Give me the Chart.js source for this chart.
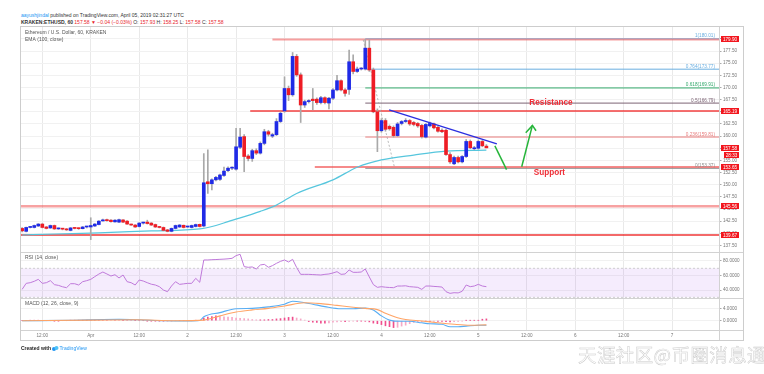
<!DOCTYPE html>
<html>
<head>
<meta charset="utf-8">
<title>ETHUSD 60</title>
<script src="https://cdn.jsdelivr.net/npm/chart.js@4.4.0/dist/chart.umd.min.js"></script>
<style>
  body { margin: 0; background: #fff; font-family: "Liberation Sans", Arial, sans-serif; }
  #page { position: relative; width: 764px; height: 374px; overflow: hidden; }
  .abs { position: absolute; }
  canvas { position: absolute; }
  .hdr { left: 21px; font-size: 5px; line-height: 6px; color: #333; white-space: nowrap; }
  .red { color: #e8262b; }
  .sep { position: absolute; background: #d2d2d2; }
  #frame { left: 20px; top: 26px; width: 722px; height: 313px; border: 1px solid #cdcdcd; }
  #wm { left: 578px; top: 341px; font: 18.5px "Noto Sans CJK SC", sans-serif; color: transparent;
        -webkit-text-stroke: 0.45px #c9c9c9; letter-spacing: 0.4px; white-space: nowrap; }
  #foot { left: 21px; top: 345px; font-size: 5px; white-space: nowrap; color: #222; }
</style>
</head>
<body>
<div id="page">
  <div class="abs hdr" style="top:12px"><span style="color:#2196f3">aayushjindal</span> published on TradingView.com, April 05, 2019 02:31:27 UTC</div>
  <div class="abs hdr" style="top:19px"><b>KRAKEN:ETHUSD, 60</b> <span class="red">157.58 ▼ −0.04 (−0.03%)</span> O: <span class="red">157.93</span> H: <span class="red">158.25</span> L: <span class="red">157.58</span> C: <span class="red">157.58</span></div>

  <canvas id="main" width="722" height="225" style="left:21px;top:27px"></canvas>
  <canvas id="rsi" width="722" height="46" style="left:21px;top:252px"></canvas>
  <canvas id="macd" width="722" height="42" style="left:21px;top:298px"></canvas>

  <div id="frame" class="abs"></div>
  <div class="sep" style="left:21px;top:252px;width:722px;height:1px"></div>
  <div class="sep" style="left:21px;top:298px;width:722px;height:1px"></div>
  <div class="sep" style="left:21px;top:330px;width:722px;height:1px"></div>
  <div class="sep" style="left:719px;top:27px;width:1px;height:313px"></div>

  <div id="foot" class="abs"><b>Created with</b>
    <svg width="7" height="5" viewBox="0 0 14 10" style="vertical-align:-1px"><circle cx="4" cy="6" r="4" fill="#2196f3"/><circle cx="9" cy="4" r="4" fill="#4fc3f7"/></svg><span style="color:#2196f3">TradingView</span></div>
  <div id="wm" class="abs">天涯社区@币圈消息通</div>
</div>

<script>
// hourly candles, hour 0 = 2019-03-31 00:00 UTC
const firstHour = 7;
const opens = [
  141.0, 140.4, 141.2, 141.2, 141.5, 141.9, 141.3, 141.1, 141.6, 140.9,
  140.95, 140.9, 140.6, 141.05, 141.0, 140.95, 141.3, 141.3, 141.5, 141.8,
  142.55, 142.8, 142.7, 142.35, 142.3, 142.75, 142.5, 141.85, 141.7, 141.4,
  142.1, 142.3, 142.1, 141.8, 141.25, 141.2, 140.7, 140.4, 141.0, 141.3,
  141.65, 141.3, 141.2, 141.4, 141.85, 141.5, 150.6, 150.2, 151.0, 151.1,
  151.9, 152.9, 153.4, 153.2, 157.7, 159.9, 155.9, 155.4, 157.0, 156.5,
  158.5, 160.9, 160.0, 160.3, 163.0, 165.2, 169.8, 168.5, 176.4, 172.6,
  166.4, 167.1, 167.6, 167.6, 166.9, 167.9, 166.8, 167.8, 169.5, 171.4,
  169.5, 169.6, 175.3, 173.3, 173.8, 173.8, 178.1, 173.6, 165.0, 161.1,
  163.2, 162.0, 161.8, 160.1, 162.6, 163.0, 163.2, 162.8, 162.6, 162.2,
  159.8, 162.1, 162.5, 161.8, 161.2, 161.2, 156.2, 154.3, 155.6, 154.7,
  155.8, 158.9, 157.4, 157.5, 158.9, 157.93
];
const highs = [
  141.2, 141.3, 141.4, 141.7, 142.0, 142.0, 141.4, 141.7, 141.7, 141.1,
  141.0, 141.0, 141.2, 141.2, 141.1, 141.4, 141.4, 143.2, 142.0, 142.6,
  142.9, 142.9, 142.8, 142.8, 142.9, 142.8, 142.6, 141.9, 141.8, 142.2,
  142.3, 142.7, 142.2, 141.9, 141.4, 141.3, 140.8, 141.1, 141.7, 141.8,
  141.7, 141.4, 141.7, 141.9, 141.9, 156.4, 157.2, 151.2, 151.7, 152.2,
  153.6, 153.7, 153.7, 161.6, 161.6, 160.3, 156.2, 157.3, 157.4, 158.8,
  161.4, 161.2, 160.6, 163.6, 165.0, 172.2, 170.3, 177.2, 176.8, 173.0,
  167.4, 167.5, 169.8, 167.9, 168.2, 168.1, 168.0, 169.8, 172.5, 171.6,
  169.8, 177.7, 176.7, 174.2, 174.1, 179.9, 179.8, 174.0, 165.6, 163.6,
  163.6, 162.3, 162.1, 162.8, 163.2, 163.6, 163.4, 163.0, 162.8, 162.4,
  162.6, 162.9, 162.7, 162.0, 161.5, 161.4, 156.6, 155.9, 155.9, 156.0,
  159.3, 159.2, 157.9, 159.2, 159.1, 158.25
];
const lows = [
  140.3, 140.3, 141.1, 141.1, 141.4, 141.1, 140.9, 141.0, 140.8, 140.8,
  140.7, 140.6, 140.5, 140.9, 140.8, 140.9, 141.1, 138.7, 141.4, 141.7,
  142.5, 142.5, 142.3, 142.3, 142.2, 142.2, 141.8, 141.6, 141.2, 141.3,
  141.9, 141.9, 141.6, 141.2, 141.1, 140.5, 140.3, 140.3, 140.9, 141.2,
  141.1, 141.2, 141.1, 141.3, 141.3, 141.3, 148.2, 148.9, 150.8, 150.9,
  151.7, 152.7, 153.1, 153.0, 157.4, 152.7, 154.9, 154.8, 156.2, 156.3,
  158.2, 160.0, 159.7, 160.1, 162.8, 164.9, 167.3, 168.2, 172.3, 162.8,
  165.9, 166.8, 165.4, 166.5, 166.6, 166.6, 165.6, 167.5, 169.3, 169.3,
  168.2, 168.6, 172.8, 173.1, 173.6, 173.6, 173.3, 164.8, 156.8, 160.8,
  161.0, 161.2, 159.8, 159.9, 162.3, 162.8, 162.2, 162.1, 161.8, 159.6,
  159.6, 161.9, 161.5, 160.8, 160.7, 156.0, 154.4, 154.1, 154.5, 154.5,
  155.6, 157.4, 157.2, 157.3, 157.8, 157.58
];
const closes = [
  140.5, 141.2, 141.3, 141.6, 141.9, 141.2, 141.0, 141.6, 140.9, 141.0,
  140.85, 140.7, 141.1, 141.0, 140.95, 141.3, 141.35, 141.6, 141.9, 142.5,
  142.7, 142.6, 142.4, 142.7, 142.8, 142.3, 141.9, 141.7, 141.3, 142.1,
  142.15, 142.0, 141.7, 141.3, 141.2, 140.6, 140.4, 141.0, 141.6, 141.7,
  141.2, 141.3, 141.6, 141.8, 141.4, 150.4, 150.2, 151.0, 151.5, 152.0,
  152.8, 153.4, 153.5, 157.8, 159.8, 155.8, 155.4, 157.0, 156.5, 158.5,
  160.9, 160.4, 160.3, 163.0, 164.7, 169.8, 168.5, 176.4, 172.6, 166.4,
  167.1, 167.25, 167.3, 166.9, 167.9, 166.9, 167.8, 169.5, 171.4, 169.5,
  168.8, 175.3, 173.3, 173.8, 173.9, 178.1, 173.6, 165.0, 161.1, 163.2,
  161.4, 161.5, 160.1, 162.5, 163.0, 163.2, 162.5, 162.4, 162.1, 159.9,
  162.4, 162.6, 161.7, 161.0, 160.9, 156.2, 154.7, 155.6, 154.7, 155.8,
  158.9, 157.6, 157.6, 158.9, 158.0, 157.58
];
const hours = opens.map((_, i) => firstHour + i);

// EMA (100, close), read at a few points
const emaHours = [7, 15, 26, 39, 51, 55, 58, 66, 70, 75, 84, 90, 96, 104, 112, 122];
const emaValues = [139.65, 139.85, 140.1, 140.5, 140.9, 141.6, 142.4, 144.5, 145.8, 148.2, 151.0, 153.6, 155.1, 156.1, 156.9, 157.1];

// RSI (14, close), one value per candle
const rsiValues = [
  40.9, 49.2, 50.1, 52.0, 54.7, 49.2, 50.1, 52.9, 47.4, 46.4,
  44.5, 43.2, 48.7, 48.7, 46.9, 51.5, 52.9, 54.7, 58.4, 62.0,
  64.8, 62.1, 59.3, 61.1, 56.6, 60.7, 51.5, 50.1, 46.9, 53.8,
  52.4, 50.1, 48.0, 46.9, 44.6, 40.0, 37.7, 45.5, 51.5, 47.8,
  48.5, 49.2, 49.2, 56.1, 50.6, 81.4, 81.4, 81.8, 82.0, 82.3,
  82.6, 83.0, 83.7, 87.4, 89.2, 72.2, 71.3, 71.8, 69.0, 74.5,
  75.4, 71.3, 73.6, 76.8, 79.5, 81.4, 78.6, 82.3, 71.0, 61.6,
  61.6, 61.6, 61.3, 61.0, 60.7, 61.6, 62.1, 63.5, 65.3, 61.6,
  62.1, 67.6, 64.4, 64.4, 64.8, 69.0, 58.0, 47.5, 43.7, 44.6,
  43.9, 43.5, 43.2, 45.5, 45.5, 45.8, 44.6, 44.2, 43.7, 40.9,
  45.5, 45.5, 45.0, 44.6, 44.1, 37.7, 35.4, 36.3, 36.0, 38.2,
  46.9, 44.6, 45.5, 47.8, 45.5, 44.6
];
const rsiBand = [30, 70];

// MACD (12, 26, close, 9)
const macdHours = [7, 20, 27, 31, 36, 42, 48, 51, 52, 56, 60, 64, 68, 72, 74, 77, 79, 82, 86, 89,
  92, 94, 96, 98, 101, 103, 106, 108, 111, 113, 115, 117, 120, 122];
const macdValues = [0, 0.15, 0.4, 0.45, 0.3, 0, -0.1, 0.05, 1.3, 2.7, 4.0, 4.1, 4.6, 5.5, 6.5, 6.0, 5.5, 4.7, 4.0, 4.0,
  4.2, 3.6, 1.6, 0.2, -0.2, -0.2, -0.7, -1.0, -1.2, -2.0, -2.0, -1.8, -1.5, -1.5];
const signalHours = [7, 25, 35, 45, 52, 56, 60, 64, 68, 72, 77, 81, 85, 89, 92, 95, 97, 100, 102, 106, 110, 114, 118, 122];
const signalValues = [0, 0.2, 0.3, 0, 0.2, 1.6, 2.9, 3.6, 4.1, 4.9, 6.0, 5.7, 5.1, 4.5, 4.1, 3.7, 2.5, 1.0, 0.4, -0.1, -0.7, -1.2, -1.5, -1.4];
const histValues = [
  0, 0, 0.05, 0.05, 0.05, 0, 0, 0, -0.05, -0.05, 0, 0, 0.05, 0.05, 0.05, 0.05, 0.1,
  0.1, 0.15, 0.2, 0.2, 0.2, 0.15, 0.15, 0.1, 0.1, 0.05, 0, 0,
  0, 0, -0.05, -0.05, -0.1, -0.1, -0.15, -0.1, -0.05, 0, 0, 0, 0, 0, 0.05, 0,
  0.9, 1.2, 1.4, 1.6, 1.4, 1.3, 1.2, 1.1, 0.9, 0.8,
  0.7, 0.6, 0.4, 0.3, 0.3, 0.3, 0.4, 0.4, 0.6, 0.7,
  0.9, 1.1, 1.2, 0.9, 0.6, 0.2, -0.3, -0.5, -0.6, -0.8,
  -0.8, -0.7, -0.5, -0.4, -0.3, -0.3, -0.2, -0.1, -0.1, -0.1,
  -0.2, -0.4, -0.8, -1.0, -1.3, -1.7, -2.0, -2.3, -2.2, -1.8,
  -1.5, -1.0, -0.6, -0.4, -0.3, -0.3, -0.3, -0.2, -0.2, -0.2,
  -0.3, -0.4, -0.3, -0.2, -0.1, 0.1, 0.1, 0.1, 0.1, 0.5, 0.6
];

// drawn levels
const levelValues = [179.90, 165.19, 153.65, 145.56, 139.67];
const levelFrom = [69, 63.5, 79.5, 0, 0];
const fibRatios = ['1', '0.764', '0.618', '0.5', '0.236', '0'];
const fibValues = [180.01, 173.77, 169.91, 166.79, 159.81, 153.37];
const fibFrom = 92;
const trendHours = [97.9, 124.6];
const trendValues = [165.4, 158.4];
const fibSwingHours = [91.5, 99.2];
const fibSwingValues = [179.8, 153.7];
const arrowDownHours = [124.1, 127.0];
const arrowDownValues = [158.0, 153.1];
const arrowUpHours = [130.75, 133.4];
const arrowUpValues = [153.7, 162.2];
const arrowHeadHours = [131.75, 133.4, 134.3];
const arrowHeadValues = [160.7, 162.2, 161.1];
const noteTexts = ['Resistance', 'Support'];
const noteHours = [138, 137.6];
const noteValues = [166.8, 152.5];
const badgeValues = [179.90, 165.19, 157.58, 153.65, 145.56, 139.67];
const countdown = '28:33';

const priceTicks = [137.5, 140, 142.5, 145, 147.5, 150, 152.5, 155, 157.5, 160, 162.5, 165, 167.5, 170, 172.5, 175, 177.5, 180];
const rsiTicks = [40, 60, 80];
const macdTicks = [0, 4];
const timeHours = [12, 24, 36, 48, 60, 72, 84, 96, 108, 120, 132, 144, 156, 168];
const timeLabels = ['12:00', 'Apr', '12:00', '2', '12:00', '3', '12:00', '4', '12:00', '5', '12:00', '6', '12:00', '7'];

const xMin = 6.72, xMax = 179.62;
const FONT = '"Liberation Sans", Arial, sans-serif';
const upColor = '#1f2ae6', downColor = '#ee1d25';
const levelColors = ['rgba(238,80,80,0.55)', 'rgba(240,30,30,0.85)', 'rgba(240,60,60,0.6)', 'rgba(240,70,70,0.5)', 'rgba(235,20,20,0.85)'];
const levelWidths = [2, 1.5, 2, 2.5, 1.5];
const fibColors = ['#6aaee0', '#6aaee0', '#33a96c', '#7d6475', '#e77b7b', '#8f8f8f'];

Chart.defaults.animation = false;
Chart.defaults.font.family = FONT;
Chart.defaults.plugins.legend.display = false;
Chart.defaults.plugins.tooltip.enabled = false;

const pts = (xs, ys) => xs.map((x, i) => ({ x: x, y: ys[i] }));

function xScale(showLabels) {
  return {
    type: 'linear', min: xMin, max: xMax, offset: false,
    afterBuildTicks: s => { s.ticks = timeHours.map(v => ({ value: v })); },
    ticks: {
      display: showLabels, autoSkip: false, maxRotation: 0, padding: 2.5,
      font: { size: 4.6 }, color: '#777',
      callback: (v, i) => timeLabels[i]
    },
    grid: { color: '#e9e9e9', drawTicks: false, offset: false },
    border: { display: false },
    afterFit: s => { s.height = showLabels ? 10 : 0; s.paddingLeft = 0; s.paddingRight = 0; }
  };
}
function yScale(min, max, ticks, digits) {
  return {
    position: 'right', min: min, max: max,
    afterBuildTicks: s => { s.ticks = ticks.map(v => ({ value: v })); },
    ticks: { autoSkip: false, font: { size: 4.6 }, color: '#777', padding: 1.5, callback: v => v.toFixed(digits) },
    grid: { color: '#f1f1f1', tickLength: 2.5, tickColor: '#aaa' },
    border: { display: false },
    afterFit: s => { s.width = 24; s.paddingTop = 0; s.paddingBottom = 0; }
  };
}

Chart.register({
  id: 'paneTitle',
  afterDraw(chart, args, opts) {
    const { ctx, chartArea: a } = chart;
    ctx.save();
    ctx.font = '5px ' + FONT;
    ctx.fillStyle = '#555';
    ctx.textBaseline = 'middle';
    (opts.lines || []).forEach((t, i) => ctx.fillText(t, a.left + 4, a.top + 6 + i * 7));
    ctx.restore();
  }
});

const mainLabels = {
  id: 'mainLabels',
  afterDatasetsDraw(chart) {
    const { ctx, chartArea: a, scales: { x, y } } = chart;
    ctx.save();
    ctx.textBaseline = 'middle';
    ctx.textAlign = 'right';
    ctx.font = '4.7px ' + FONT;
    fibValues.forEach((v, i) => {
      ctx.fillStyle = fibColors[i];
      ctx.fillText(fibRatios[i] + '(' + v.toFixed(2) + ')', a.right - 4, y.getPixelForValue(v) - 2.8);
    });
    ctx.textAlign = 'center';
    ctx.fillStyle = '#ef2f38';
    ctx.font = 'bold 8.2px ' + FONT;
    noteTexts.forEach((t, i) => ctx.fillText(t, x.getPixelForValue(noteHours[i]), y.getPixelForValue(noteValues[i])));
    ctx.restore();
  },
  afterDraw(chart) {
    const { ctx, chartArea: a, scales: { y } } = chart;
    ctx.save();
    ctx.textAlign = 'center';
    ctx.textBaseline = 'middle';
    ctx.font = '4.6px ' + FONT;
    const bx = a.right + 2, bw = 18;
    badgeValues.forEach(v => {
      const py = Math.round(y.getPixelForValue(v));
      ctx.fillStyle = '#f2161e';
      ctx.fillRect(bx, py - 3, bw, 6);
      ctx.fillStyle = '#fff';
      ctx.fillText(v.toFixed(2), bx + bw / 2, py + 0.3);
    });
    const cy = Math.round(y.getPixelForValue(closes[closes.length - 1])) + 7;
    ctx.fillStyle = '#f2161e';
    ctx.fillRect(bx + 3, cy - 3, 15, 6);
    ctx.fillStyle = '#fff';
    ctx.fillText(countdown, bx + 10.5, cy + 0.3);
    ctx.restore();
  }
};

const lineDs = (data, color, width, order, extra) => Object.assign({
  type: 'line', data: data, borderColor: color, borderWidth: width, pointRadius: 0, order: order
}, extra || {});

new Chart(document.getElementById('main'), {
  type: 'bar',
  data: {
    datasets: [
      ...levelValues.map((v, i) => lineDs([{ x: levelFrom[i], y: v }, { x: xMax, y: v }], levelColors[i], levelWidths[i], 30)),
      ...fibValues.map((v, i) => lineDs([{ x: fibFrom, y: v }, { x: xMax, y: v }], fibColors[i], 1, 31)),
      lineDs(pts(fibSwingHours, fibSwingValues), '#a8a8a8', 0.8, 25, { borderDash: [2, 2] }),
      lineDs(pts(emaHours, emaValues), '#56c6dd', 1.2, 20, { cubicInterpolationMode: 'monotone' }),
      {
        data: pts(hours, hours.map((h, i) => [lows[i], highs[i]])),
        backgroundColor: '#a9a9a9', barThickness: 1, grouped: false, order: 12
      },
      {
        data: pts(hours, hours.map((h, i) => [opens[i], closes[i]])),
        backgroundColor: opens.map((o, i) => closes[i] >= o ? upColor : downColor),
        barThickness: 3, minBarLength: 1, grouped: false, order: 11
      },
      lineDs(pts(trendHours, trendValues), '#2b2fe0', 1.4, 3),
      lineDs(pts(arrowDownHours, arrowDownValues), '#26b53a', 1.5, 2),
      lineDs(pts(arrowUpHours, arrowUpValues), '#26b53a', 1.5, 2),
      lineDs(pts(arrowHeadHours, arrowHeadValues), '#26b53a', 1.5, 2)
    ]
  },
  options: {
    responsive: false,
    layout: { padding: 0 },
    scales: { x: xScale(false), y: yScale(136.15, 182.45, priceTicks, 2) },
    plugins: { paneTitle: { lines: ['Ethereum / U.S. Dollar, 60, KRAKEN', 'EMA (100, close)'] } }
  },
  plugins: [mainLabels]
});

const rsiBandPlugin = {
  id: 'rsiBand',
  beforeDatasetsDraw(chart) {
    const { ctx, chartArea: a, scales: { y } } = chart;
    const top = y.getPixelForValue(rsiBand[1]), bot = y.getPixelForValue(rsiBand[0]);
    ctx.save();
    ctx.fillStyle = 'rgba(170,100,235,0.12)';
    ctx.fillRect(a.left, top, a.right - a.left, bot - top);
    ctx.strokeStyle = '#c4c4c4';
    ctx.lineWidth = 0.8;
    ctx.setLineDash([2, 2]);
    [top, bot].forEach(py => {
      ctx.beginPath(); ctx.moveTo(a.left, py); ctx.lineTo(a.right, py); ctx.stroke();
    });
    ctx.restore();
  }
};

new Chart(document.getElementById('rsi'), {
  type: 'line',
  data: { datasets: [lineDs(pts(hours, rsiValues), '#bf79da', 1, 1)] },
  options: {
    responsive: false,
    layout: { padding: 0 },
    scales: { x: xScale(false), y: yScale(29.0, 92.4, rsiTicks, 4) },
    plugins: { paneTitle: { lines: ['RSI (14, close)'] } }
  },
  plugins: [rsiBandPlugin]
});

const histColors = histValues.map((v, i) => {
  const prev = i > 0 ? Math.abs(histValues[i - 1]) : 0;
  return Math.abs(v) >= prev ? '#ef4f8e' : '#f6a8c7';
});

new Chart(document.getElementById('macd'), {
  type: 'bar',
  data: {
    datasets: [
      { data: pts(hours, histValues), backgroundColor: histColors, barThickness: 1, grouped: false, order: 5 },
      lineDs(pts(macdHours, macdValues), '#58adf3', 1.1, 2, { cubicInterpolationMode: 'monotone' }),
      lineDs(pts(signalHours, signalValues), '#ffa466', 1.1, 1, { cubicInterpolationMode: 'monotone' })
    ]
  },
  options: {
    responsive: false,
    layout: { padding: 0 },
    scales: { x: xScale(true), y: yScale(-3.1, 7.57, macdTicks, 4) },
    plugins: { paneTitle: { lines: ['MACD (12, 26, close, 9)'] } }
  }
});
</script>
</body>
</html>
